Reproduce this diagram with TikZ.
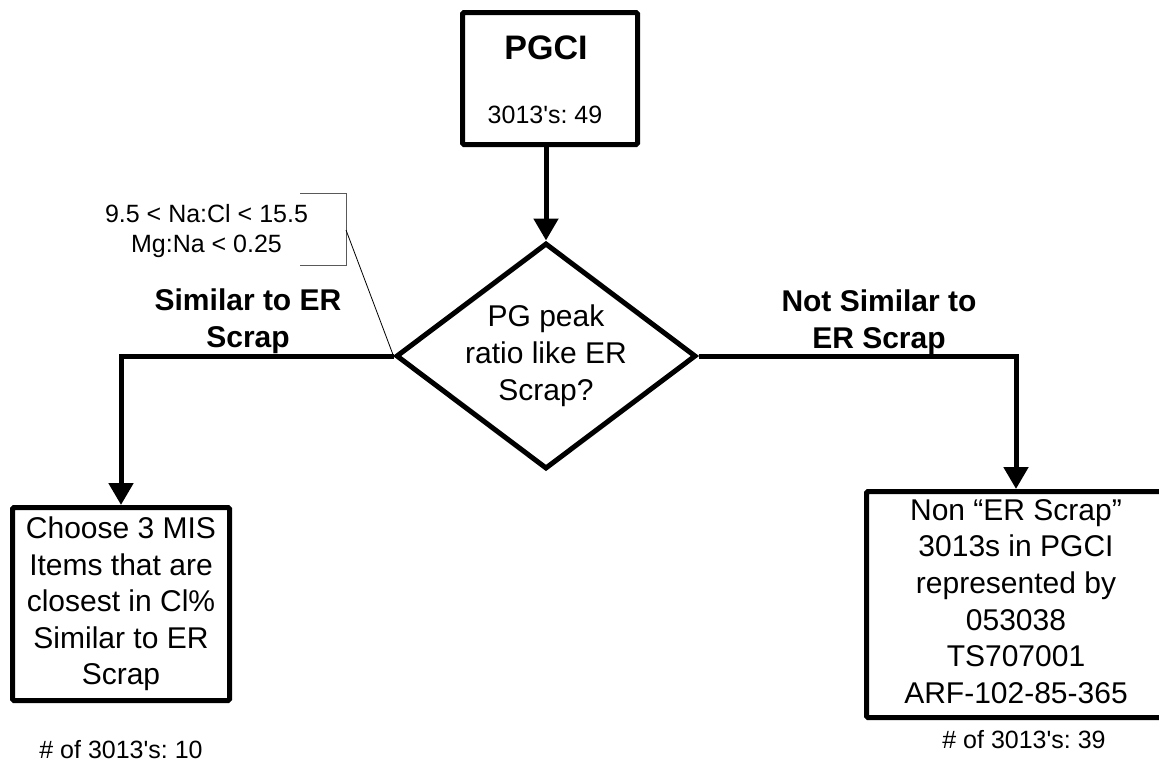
\documentclass[tikz,border=0pt]{standalone}
\usepackage{fontspec}
\setmainfont{Liberation Sans}
\newfontfamily\arial{Liberation Sans}
\usetikzlibrary{arrows.meta,shapes.geometric}
\frenchspacing
\begin{document}
\frenchspacing
\begin{tikzpicture}[x=1pt,y=-1pt,
  box/.style={draw, line width=5pt, rounded corners=1.5pt, inner sep=0pt, align=center},
  txt/.style={font=\arial\fontsize{30}{36.5}\selectfont, align=center},
  rtxt/.style={font=\arial\fontsize{30}{36.7}\selectfont},
  small/.style={font=\arial\fontsize{25}{30}\selectfont, align=center, inner sep=0pt},
  lab/.style={font=\arial\bfseries\fontsize{30}{37}\selectfont, align=center, inner sep=0pt},
  dia/.style={draw, shape=diamond, line width=5pt, inner sep=0pt, aspect=1.33,
    minimum width=300pt, minimum height=226pt, align=center,
    font=\arial\fontsize{30}{37}\selectfont},
  conn/.style={line width=5pt, -{Triangle[length=22pt,width=24pt]}},
  thinline/.style={line width=0.8pt},
  bracket/.style={line width=1pt, black!65}]
\useasboundingbox (0,0) rectangle (1159,763);
\clip (0,0) rectangle (1159,763);
\fill[white] (0,0) rectangle (1159,763);

% top box
\node[box, minimum width=175pt, minimum height=132pt] (pgci) at (550,78.5) {};
\node[anchor=base, font=\arial\bfseries\fontsize{34}{40}\selectfont] (pgcit) at (546,59) {PGCI};
\node[anchor=base, small] (pgcic) at (545,123) {3013's: 49};

% decision
\node[dia] (dia) at (546,356) {PG peak\\ratio like ER\\Scrap?};

% result boxes
\node[box, txt, minimum width=217pt, minimum height=193pt] (left) at (121,604)
  {Choose 3 MIS\\Items that are\\closest in Cl\%\\Similar to ER\\Scrap};
\node[box, rtxt, minimum width=320pt, minimum height=226pt] (right) at (1026.5,604.5)
  {\begin{tabular}{@{}c@{}}Non “ER Scrap”\\3013s in PGCI\\represented by\\053038\\TS707001\\ARF-102-85-365\end{tabular}\hspace*{21pt}};

% connectors
\draw[conn] (dia.north |- pgci.south) -- (dia.north);
\draw[conn] (dia.west) -| (left.north);
\draw[conn] (dia.east) -| (right.north -| 1016,0);

% branch labels
\node[lab] (simlab) at (248,321) {Similar to ER\\Scrap};
\node[lab] (notlab) at (879,322.5) {Not Similar to\\ER Scrap};

% callout
\node[small] (cond) at (206.5,231) {9.5 < Na:Cl < 15.5\\Mg:Na < 0.25};
\coordinate (brtop) at (300,193);
\coordinate (brbot) at (300,265);
\coordinate (brmid) at (346,230);
\draw[bracket] (brtop) -- (346,193) -- (346,265) -- (brbot);
\draw[thinline] (brmid) -- (dia.west);

% counts
\node[anchor=base, small] (cntl) at (121,758) {\# of 3013's: 10};
\node[anchor=base, small] (cntr) at (1024,748) {\# of 3013's: 39};
\end{tikzpicture}
\end{document}
